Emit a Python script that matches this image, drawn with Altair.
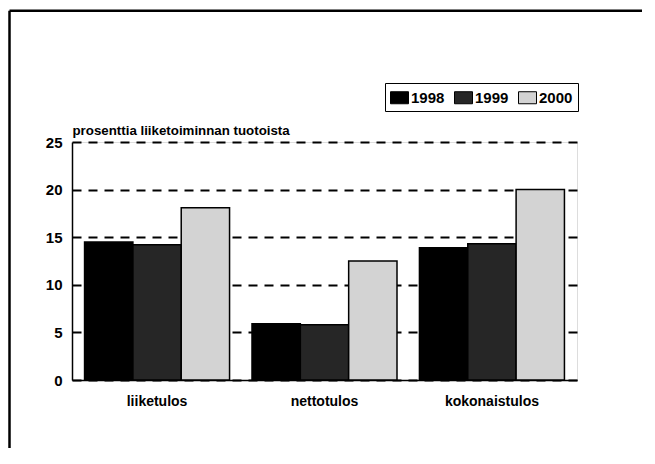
import altair as alt
import pandas as pd

categories = ["liiketulos", "nettotulos", "kokonaistulos"]
years = ["1998", "1999", "2000"]
v1998 = [14.5, 5.9, 13.9]
v1999 = [14.2, 5.8, 14.3]
v2000 = [18.1, 12.5, 20.0]
colors = ["#000000", "#262626", "#d3d3d3"]
y_ticks = [0, 5, 10, 15, 20, 25]
y_title = "prosenttia liiketoiminnan tuotoista"

rows = []
for yr, vals in zip(years, [v1998, v1999, v2000]):
    for c, v in zip(categories, vals):
        rows.append({"kategoria": c, "vuosi": yr, "arvo": v})
df = pd.DataFrame(rows)

FONT = "Liberation Sans"

bars = alt.Chart(df).mark_bar(stroke="black", strokeWidth=1.5).encode(
    x=alt.X("kategoria:N", sort=categories,
            scale=alt.Scale(paddingInner=0.134, paddingOuter=0.075),
            axis=alt.Axis(title=None, labelAngle=0, ticks=False, domain=True,
                          domainColor="black", domainWidth=1.5,
                          labelFont=FONT, labelFontSize=14, labelFontWeight="bold",
                          labelColor="black", labelPadding=14, grid=False)),
    xOffset=alt.XOffset("vuosi:N", sort=years,
                        scale=alt.Scale(paddingInner=0, paddingOuter=0)),
    y=alt.Y("arvo:Q", scale=alt.Scale(domain=[0, 25], nice=False),
            axis=alt.Axis(title=y_title, titleAngle=0, titleX=0, titleY=-8,
                          titleAlign="left", titleBaseline="alphabetic",
                          titleFont=FONT, titleFontSize=13.3, titleFontWeight="bold",
                          titleColor="black",
                          values=y_ticks, ticks=False, domain=True,
                          domainColor="black", domainWidth=1.5,
                          labelFont=FONT, labelFontSize=15, labelFontWeight="bold",
                          labelColor="black", labelPadding=10,
                          grid=True, gridColor="black", gridWidth=2,
                          gridDash=[9, 7])),
    fill=alt.Fill("vuosi:N", sort=years,
                  scale=alt.Scale(domain=years, range=colors),
                  legend=alt.Legend(title=None, orient="none", legendX=313, legendY=-59,
                                    direction="horizontal", strokeColor="black",
                                    padding=5, symbolType="M-1,-0.667H1V0.667H-1Z",
                                    symbolSize=324, symbolStrokeColor="black",
                                    symbolStrokeWidth=1, labelFont=FONT,
                                    labelFontSize=15, labelFontWeight="bold",
                                    labelColor="black", labelOffset=2,
                                    columnPadding=7)),
)

frame_data = alt.Data(values=[{"a": 1}])
left_line = alt.Chart(frame_data).mark_rule(color="black", strokeWidth=2.5).encode(
    x=alt.value(-62.5), y=alt.value(-131.3), y2=alt.value(306))
top_line = alt.Chart(frame_data).mark_rule(color="black", strokeWidth=2.5).encode(
    x=alt.value(-62.5), x2=alt.value(570), y=alt.value(-131.3))

chart = alt.layer(bars, left_line, top_line).properties(
    width=505, height=238,
    autosize=alt.AutoSizeParams(type="none"),
    padding={"left": 64, "top": 134, "right": 65, "bottom": 68},
).configure_view(strokeWidth=0).configure(background="white")

chart.save("out.html", embed_options={"renderer": "svg", "actions": False})
